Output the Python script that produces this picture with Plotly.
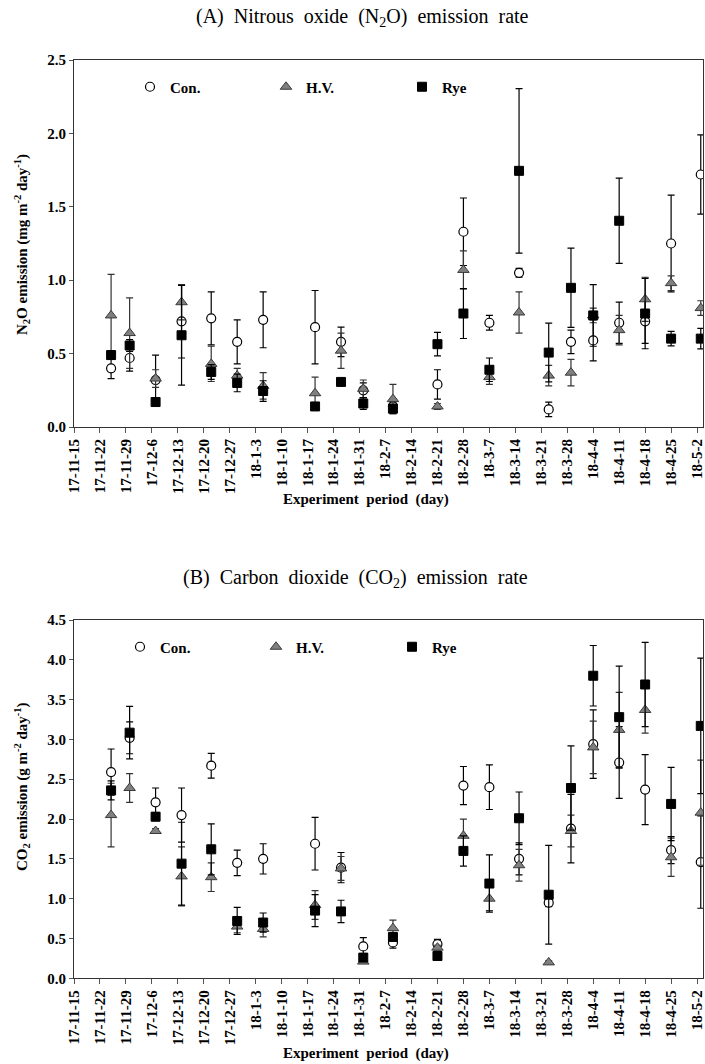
import plotly.graph_objects as go

# ---------------- data ----------------
sample_dates = ["2017-11-25", "2017-11-30", "2017-12-07", "2017-12-14", "2017-12-22",
                "2017-12-29", "2018-01-05", "2018-01-19", "2018-01-26", "2018-02-01",
                "2018-02-09", "2018-02-21", "2018-02-28", "2018-03-07", "2018-03-15",
                "2018-03-23", "2018-03-29", "2018-04-04", "2018-04-11", "2018-04-18",
                "2018-04-25", "2018-05-03"]

tick_dates = ["2017-11-15", "2017-11-22", "2017-11-29", "2017-12-06", "2017-12-13",
              "2017-12-20", "2017-12-27", "2018-01-03", "2018-01-10", "2018-01-17",
              "2018-01-24", "2018-01-31", "2018-02-07", "2018-02-14", "2018-02-21",
              "2018-02-28", "2018-03-07", "2018-03-14", "2018-03-21", "2018-03-28",
              "2018-04-04", "2018-04-11", "2018-04-18", "2018-04-25", "2018-05-02"]
tick_labels = ["17-11-15", "17-11-22", "17-11-29", "17-12-6", "17-12-13", "17-12-20",
               "17-12-27", "18-1-3", "18-1-10", "18-1-17", "18-1-24", "18-1-31",
               "18-2-7", "18-2-14", "18-2-21", "18-2-28", "18-3-7", "18-3-14",
               "18-3-21", "18-3-28", "18-4-4", "18-4-11", "18-4-18", "18-4-25", "18-5-2"]

# N2O emission (mg m-2 day-1)
con_n2o = [0.40, 0.47, 0.32, 0.72, 0.74, 0.58, 0.73, 0.68, 0.58, 0.25, 0.14, 0.29,
           1.33, 0.71, 1.05, 0.12, 0.58, 0.59, 0.71, 0.72, 1.25, 1.72]
con_n2o_err = [0.07, 0.09, 0.17, 0.25, 0.18, 0.15, 0.19, 0.25, 0.10, 0.05, 0.03, 0.10,
               0.23, 0.05, 0.03, 0.05, 0.08, 0.14, 0.14, 0.15, 0.33, 0.27]
hv_n2o = [0.76, 0.64, 0.33, 0.85, 0.43, 0.35, 0.28, 0.23, 0.52, 0.26, 0.19, 0.14,
          1.07, 0.34, 0.78, 0.35, 0.37, 0.76, 0.66, 0.87, 0.98, 0.81]
hv_n2o_err = [0.28, 0.24, 0.06, 0.12, 0.12, 0.05, 0.09, 0.11, 0.12, 0.06, 0.10, 0.02,
              0.13, 0.05, 0.14, 0.07, 0.09, 0.05, 0.10, 0.15, 0.05, 0.05]
rye_n2o = [0.49, 0.555, 0.17, 0.625, 0.375, 0.30, 0.245, 0.14, 0.307, 0.16, 0.125, 0.564,
           0.773, 0.39, 1.745, 0.507, 0.948, 0.76, 1.405, 0.773, 0.602, 0.602]
rye_n2o_err = [0.03, 0.04, 0.02, 0.34, 0.05, 0.06, 0.07, 0.02, 0.02, 0.04, 0.03, 0.08,
               0.17, 0.08, 0.56, 0.20, 0.27, 0.21, 0.29, 0.24, 0.05, 0.07]

# CO2 emission (g m-2 day-1)
con_co2 = [2.59, 3.02, 2.21, 2.05, 2.67, 1.45, 1.50, 1.69, 1.39, 0.40, 0.45, 0.43,
           2.42, 2.40, 1.50, 0.95, 1.88, 2.94, 2.71, 2.37, 1.61, 1.46]
con_co2_err = [0.29, 0.20, 0.18, 0.34, 0.155, 0.16, 0.19, 0.33, 0.19, 0.11, 0.07, 0.06,
               0.24, 0.28, 0.20, 0.05, 0.43, 0.43, 0.45, 0.44, 0.17, 0.58]
hv_co2 = [2.05, 2.39, 1.85, 1.28, 1.27, 0.65, 0.62, 0.92, 1.38, 0.21, 0.63, 0.385,
          1.79, 1.00, 1.42, 0.20, 1.85, 2.90, 3.12, 3.37, 1.52, 2.08]
hv_co2_err = [0.40, 0.18, 0.03, 0.37, 0.18, 0.08, 0.10, 0.18, 0.15, 0.02, 0.10, 0.03,
              0.21, 0.15, 0.20, 0.02, 0.20, 0.33, 0.47, 0.29, 0.24, 0.66]
rye_co2 = [2.36, 3.085, 2.03, 1.44, 1.62, 0.72, 0.70, 0.85, 0.84, 0.26, 0.52, 0.28,
           1.60, 1.19, 2.01, 1.05, 2.39, 3.80, 3.28, 3.69, 2.19, 3.17]
rye_co2_err = [0.12, 0.33, 0.05, 0.52, 0.32, 0.17, 0.12, 0.20, 0.14, 0.03, 0.05, 0.02,
               0.19, 0.36, 0.33, 0.62, 0.53, 0.38, 0.64, 0.53, 0.46, 0.85]

# ---------------- styling ----------------
W, H = 705, 1064
SERIF = "Liberation Serif"
X_RANGE = ["2017-11-15", "2018-05-03 14:24"]

series_style = {
    "Con.": dict(symbol="circle", size=9, color="white", line=dict(color="black", width=1.2),
                 err="black"),
    "H.V.": dict(symbol="triangle-up", size=10, color="#7f7f7f", line=dict(color="#3a3a3a", width=1),
                 err="#333333"),
    "Rye": dict(symbol="square", size=9, color="black", line=dict(color="black", width=1),
                err="black"),
}

fig = go.Figure()

def add_series(name, y, err, xaxis, yaxis, legend, showlegend=True):
    st = series_style[name]
    fig.add_trace(go.Scatter(
        x=sample_dates, y=y, mode="markers", name=name,
        xaxis=xaxis, yaxis=yaxis, legend=legend, showlegend=showlegend,
        marker=dict(symbol=st["symbol"], size=st["size"], color=st["color"], line=st["line"]),
        error_y=dict(type="data", array=err, visible=True, color=st["err"],
                     thickness=1.2, width=3.5),
        cliponaxis=True,
    ))

add_series("Con.", con_n2o, con_n2o_err, "x", "y", "legend")
add_series("H.V.", hv_n2o, hv_n2o_err, "x", "y", "legend")
add_series("Rye", rye_n2o, rye_n2o_err, "x", "y", "legend")
add_series("Con.", con_co2, con_co2_err, "x2", "y2", "legend2")
add_series("H.V.", hv_co2, hv_co2_err, "x2", "y2", "legend2")
add_series("Rye", rye_co2, rye_co2_err, "x2", "y2", "legend2")

# pixel geometry of the two plot areas
L, R = 74, 703
top_y0, top_y1 = 60, 427
bot_y0, bot_y1 = 620, 978.3

def ydom(p0, p1):
    return [1 - p1 / H, 1 - p0 / H]

xaxis_common = dict(
    type="date", range=X_RANGE, tickvals=tick_dates, ticktext=tick_labels,
    tickangle=-90, ticks="outside", ticklen=5, tickwidth=1, tickcolor="#555555",
    showline=True, linecolor="#333333", linewidth=1, mirror=True,
    showgrid=False, zeroline=False, automargin=False,
    tickfont=dict(family=SERIF, size=15, color="black", weight="bold"),
)
yaxis_common = dict(
    ticks="outside", ticklen=4, tickwidth=1, tickcolor="#555555",
    showline=True, linecolor="#333333", linewidth=1, mirror=True,
    showgrid=False, zeroline=False, automargin=False, dtick=0.5, tickformat=".1f",
    tickfont=dict(family=SERIF, size=15, color="black", weight="bold"),
)

legend_common = dict(orientation="h", xanchor="left", yanchor="middle",
                     bgcolor="rgba(0,0,0,0)", entrywidth=91, entrywidthmode="pixels",
                     font=dict(family=SERIF, size=15, color="black", weight="bold"))

fig.update_layout(
    width=W, height=H,
    margin=dict(l=L, r=W - R, t=0, b=0),
    paper_bgcolor="white", plot_bgcolor="white",
    xaxis=dict(xaxis_common, anchor="y"),
    yaxis=dict(yaxis_common, range=[0, 2.5], domain=ydom(top_y0, top_y1), anchor="x"),
    xaxis2=dict(xaxis_common, anchor="y2"),
    yaxis2=dict(yaxis_common, range=[0, 4.5], domain=ydom(bot_y0, bot_y1), anchor="x2"),
    legend=dict(legend_common, x=(130 - L) / (R - L), y=1 - 87 / H),
    legend2=dict(legend_common, x=(120 - L) / (R - L), y=1 - 647 / H),
)

sp = "\u00a0\u00a0"
def px_x(px):
    return (px - L) / (R - L)

annotations = [
    # chart titles
    dict(text=f"(A){sp}Nitrous{sp}oxide{sp}(N<sub>2</sub>O){sp}emission{sp}rate",
         x=px_x(362), y=1 - 18 / H, font=dict(family=SERIF, size=20, color="black")),
    dict(text=f"(B){sp}Carbon{sp}dioxide{sp}(CO<sub>2</sub>){sp}emission{sp}rate",
         x=px_x(355), y=1 - 578 / H, font=dict(family=SERIF, size=20, color="black")),
    # x axis titles
    dict(text=f"Experiment{sp}period{sp}(day)", x=px_x(366), y=1 - 499 / H,
         font=dict(family=SERIF, size=15, color="black", weight="bold")),
    dict(text=f"Experiment{sp}period{sp}(day)", x=px_x(366), y=1 - 1053 / H,
         font=dict(family=SERIF, size=15, color="black", weight="bold")),
    # y axis titles
    dict(text="N<sub>2</sub>O emission (mg m<sup>-2</sup> day<sup>-1</sup>)",
         x=px_x(22), y=1 - 245 / H, textangle=-90,
         font=dict(family=SERIF, size=15, color="black", weight="bold")),
    dict(text="CO<sub>2</sub> emission (g m<sup>-2</sup> day<sup>-1</sup>)",
         x=px_x(22), y=1 - 787 / H, textangle=-90,
         font=dict(family=SERIF, size=15, color="black", weight="bold")),
]
for a in annotations:
    a.update(xref="paper", yref="paper", showarrow=False, xanchor="center", yanchor="middle")
fig.update_layout(annotations=annotations)

fig.write_html(
    "out.html",
    config={"displayModeBar": False},
    post_script="document.body.style.margin='0';document.body.style.padding='0';"
                "document.body.style.overflow='hidden';",
)
